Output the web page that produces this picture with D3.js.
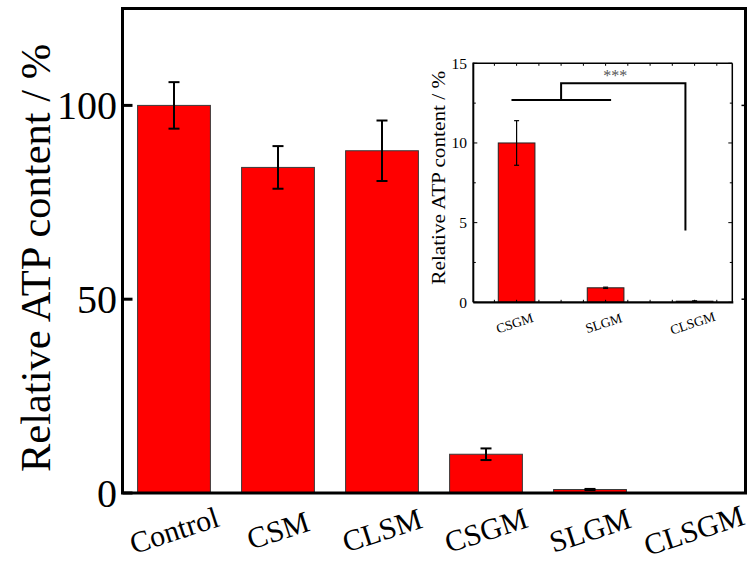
<!DOCTYPE html>
<html>
<head>
<meta charset="utf-8">
<script src="https://cdn.jsdelivr.net/npm/d3@7"></script>
<style>
  html, body { margin: 0; padding: 0; background: #fff; }
  svg { display: block; }
  text { font-family: "Liberation Serif", "Times New Roman", serif; fill: #000; }
</style>
</head>
<body>
<svg id="chart" width="748" height="566"></svg>
<script>
// ATP content relative to control (%), mean and error
const categories = ["Control", "CSM", "CLSM", "CSGM", "SLGM", "CLSGM"];
const atpMean = [100, 84, 88.3, 10, 0.9, 0.08];
const atpErr = [6, 5.5, 7.8, 1.5, 0.15, 0.02];
const yTicks = [0, 50, 100];

// Inset: the three gel groups on a finer scale
const insetCategories = ["CSGM", "SLGM", "CLSGM"];
const insetMean = [10, 0.91, 0.07];
const insetErr = [1.4, 0.04, 0.02];
const insetTicks = [0, 5, 10, 15];
const insetMinorTicks = [2.5, 7.5, 12.5];
// significance bracket levels (inset units) and label
const bracketLevels = [12.7, 13.75, 4.5];
const bracketLabel = "***";

const yLabel = "Relative ATP content / %";

const svg = d3.select("#chart");

// ---------- main panel ----------
const M = { left: 122.5, right: 745.5, top: 8.5, bottom: 493 };
const x = d3.scaleBand().domain(categories).range([122, 746]).paddingInner(0.3).paddingOuter(0.15);
const y = d3.scaleLinear().domain([0, 125]).range([M.bottom, M.top]);

const main = svg.append("g");

main.selectAll("rect.bar").data(categories).join("rect")
  .attr("class", "bar")
  .attr("x", d => x(d))
  .attr("width", x.bandwidth())
  .attr("y", (d, i) => y(atpMean[i]))
  .attr("height", (d, i) => y(0) - y(atpMean[i]))
  .attr("fill", "#ff0000")
  .attr("stroke", "#3a3a3a")
  .attr("stroke-width", 1);

// error bars (skipped where the bar is too small to show one)
categories.forEach((d, i) => {
  if ((y(0) - y(atpErr[i])) < 0.5) return;
  const cx = x(d) + x.bandwidth() / 2;
  const hi = y(atpMean[i] + atpErr[i]), lo = y(atpMean[i] - atpErr[i]);
  const cap = 5.5;
  const g = main.append("g").attr("stroke", "#000").attr("stroke-width", 2);
  g.append("line").attr("x1", cx).attr("x2", cx).attr("y1", hi).attr("y2", lo);
  g.append("line").attr("x1", cx - cap).attr("x2", cx + cap).attr("y1", hi).attr("y2", hi);
  g.append("line").attr("x1", cx - cap).attr("x2", cx + cap).attr("y1", lo).attr("y2", lo);
});

// frame
main.append("rect")
  .attr("x", M.left).attr("y", M.top)
  .attr("width", M.right - M.left).attr("height", M.bottom - M.top)
  .attr("fill", "none").attr("stroke", "#000").attr("stroke-width", 3);

// y ticks (inward) and labels
main.selectAll("line.ytick").data(yTicks).join("line")
  .attr("x1", M.left).attr("x2", M.left + 10)
  .attr("y1", d => y(d)).attr("y2", d => y(d))
  .attr("stroke", "#000").attr("stroke-width", 3);
main.selectAll("line.ytickR").data(yTicks).join("line")
  .attr("x1", M.right).attr("x2", M.right - 4)
  .attr("y1", d => y(d)).attr("y2", d => y(d))
  .attr("stroke", "#000").attr("stroke-width", 1.5);
main.selectAll("text.ylab").data(yTicks).join("text")
  .attr("x", 117).attr("y", d => y(d))
  .attr("dy", "0.34em")
  .attr("text-anchor", "end")
  .attr("font-size", 40)
  .text(d => d);

// x category labels (slanted)
main.selectAll("text.xlab").data(categories).join("text")
  .attr("transform", d => {
    const cx = x(d) + x.bandwidth() / 2;
    return `translate(${cx},530) rotate(-18)`;
  })
  .attr("text-anchor", "middle")
  .attr("dy", "0.35em")
  .attr("font-size", 30)
  .text(d => d);

// y axis title
main.append("text")
  .attr("transform", "translate(50,258) rotate(-90)")
  .attr("text-anchor", "middle")
  .attr("font-size", 42.5)
  .text(yLabel);

// ---------- inset ----------
const I = { left: 473.3, right: 732.3, top: 63.3, bottom: 302.3 };
const xi = d3.scaleBand().domain(insetCategories).range([473, 738.2]).paddingInner(0.588).paddingOuter(0.284);
const yi = d3.scaleLinear().domain([0, 15]).range([I.bottom, I.top]);
const inset = svg.append("g");

inset.append("rect")
  .attr("x", I.left).attr("y", I.top)
  .attr("width", I.right - I.left).attr("height", I.bottom - I.top)
  .attr("fill", "#fff");

inset.selectAll("rect.ibar").data(insetCategories).join("rect")
  .attr("class", "ibar")
  .attr("x", d => xi(d))
  .attr("width", xi.bandwidth())
  .attr("y", (d, i) => yi(insetMean[i]))
  .attr("height", (d, i) => yi(0) - yi(insetMean[i]))
  .attr("fill", "#ff0000")
  .attr("stroke", "#222")
  .attr("stroke-width", 1);

insetCategories.forEach((d, i) => {
  const cx = xi(d) + xi.bandwidth() / 2;
  const hi = yi(insetMean[i] + insetErr[i]), lo = yi(insetMean[i] - insetErr[i]);
  const cap = 2.5;
  const g = inset.append("g").attr("stroke", "#000").attr("stroke-width", 1.2);
  g.append("line").attr("x1", cx).attr("x2", cx).attr("y1", hi).attr("y2", lo);
  g.append("line").attr("x1", cx - cap).attr("x2", cx + cap).attr("y1", hi).attr("y2", hi);
  g.append("line").attr("x1", cx - cap).attr("x2", cx + cap).attr("y1", lo).attr("y2", lo);
});

// inset frame: heavier left/bottom axes, lighter top/right
inset.append("line").attr("x1", I.left).attr("x2", I.right).attr("y1", I.top).attr("y2", I.top)
  .attr("stroke", "#000").attr("stroke-width", 1.5);
inset.append("line").attr("x1", I.right).attr("x2", I.right).attr("y1", I.top).attr("y2", I.bottom)
  .attr("stroke", "#000").attr("stroke-width", 1.5);
inset.append("line").attr("x1", I.left).attr("x2", I.right + 1).attr("y1", I.bottom).attr("y2", I.bottom)
  .attr("stroke", "#000").attr("stroke-width", 2.2);
inset.append("line").attr("x1", I.left).attr("x2", I.left).attr("y1", I.top - 0.75).attr("y2", I.bottom)
  .attr("stroke", "#000").attr("stroke-width", 2);

// inset y ticks, both sides
[[I.left, 1], [I.right, -1]].forEach(([x0, dir]) => {
  inset.selectAll(null).data(insetTicks).join("line")
    .attr("x1", x0).attr("x2", x0 + dir * 4)
    .attr("y1", d => yi(d)).attr("y2", d => yi(d))
    .attr("stroke", "#000").attr("stroke-width", 1);
  inset.selectAll(null).data(insetMinorTicks).join("line")
    .attr("x1", x0).attr("x2", x0 + dir * 2.5)
    .attr("y1", d => yi(d)).attr("y2", d => yi(d))
    .attr("stroke", "#000").attr("stroke-width", 1);
});

// inset x ticks: group centres and quarter steps, on top and bottom edges
const step = xi.step();
const xTickPos = Array.from(new Set(insetCategories.flatMap(d => {
  const cx = xi(d) + xi.bandwidth() / 2;
  return [-0.5, -0.25, 0, 0.25, 0.5].map(f => Math.round((cx + f * step) * 10) / 10);
}))).filter(v => v > I.left + 1 && v < I.right - 1);
inset.selectAll(null).data(xTickPos).join("line")
  .attr("x1", d => d).attr("x2", d => d)
  .attr("y1", I.top).attr("y2", I.top + 2.5)
  .attr("stroke", "#000").attr("stroke-width", 1);
inset.selectAll(null).data(xTickPos).join("line")
  .attr("x1", d => d).attr("x2", d => d)
  .attr("y1", I.bottom).attr("y2", I.bottom - 2.5)
  .attr("stroke", "#000").attr("stroke-width", 1);

// inset tick labels
inset.selectAll("text.iy").data(insetTicks).join("text")
  .attr("x", 467).attr("y", d => yi(d))
  .attr("dy", "0.34em")
  .attr("text-anchor", "end")
  .attr("font-size", 15.5)
  .text(d => d);

inset.selectAll("text.ix").data(insetCategories).join("text")
  .attr("transform", d => `translate(${xi(d) + xi.bandwidth() / 2 - 2},323) rotate(-18)`)
  .attr("text-anchor", "middle")
  .attr("dy", "0.35em")
  .attr("font-size", 13.5)
  .text(d => d);

inset.append("text")
  .attr("transform", `translate(445,${(I.top + I.bottom) / 2 - 5}) rotate(-90) scale(1.18,1)`)
  .attr("text-anchor", "middle")
  .attr("font-size", 18)
  .text(yLabel);

// significance bracket
const cA = xi("CSGM") + xi.bandwidth() / 2, cB = xi("SLGM") + xi.bandwidth() / 2;
const leftEnd = xi("CSGM") + xi.bandwidth() * 0.36;
const rightEnd = xi("SLGM") + xi.bandwidth() * 0.65;
const joint = (cA + cB) / 2;
const dropX = xi("CLSGM") + xi.bandwidth() * 0.25;
const br = inset.append("g").attr("stroke", "#000").attr("stroke-width", 2).attr("fill", "none");
br.append("line").attr("x1", leftEnd).attr("x2", rightEnd).attr("y1", yi(bracketLevels[0])).attr("y2", yi(bracketLevels[0]));
br.append("path").attr("d", `M${joint},${yi(bracketLevels[0])}V${yi(bracketLevels[1])}H${dropX}V${yi(bracketLevels[2])}`);

inset.append("text")
  .attr("x", (joint + dropX) / 2 - 8)
  .attr("y", 81)
  .attr("text-anchor", "middle")
  .attr("font-size", 16)
  .style("fill", "#555")
  .text(bracketLabel);
</script>
</body>
</html>
